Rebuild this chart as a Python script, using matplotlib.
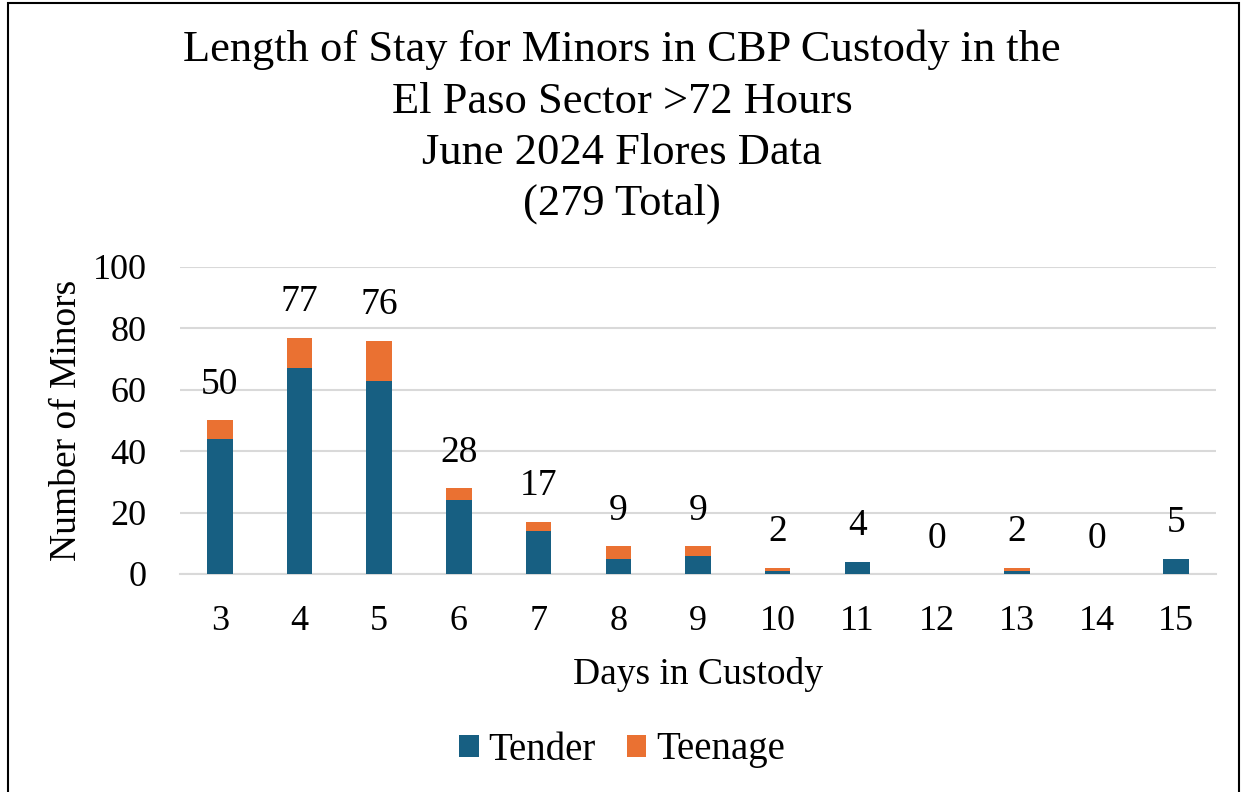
import matplotlib
matplotlib.use("Agg")
import matplotlib.pyplot as plt
from matplotlib.patches import Rectangle

days = ["3", "4", "5", "6", "7", "8", "9", "10", "11", "12", "13", "14", "15"]
tender = [44, 67, 63, 24, 14, 5, 6, 1, 4, 0, 1, 0, 5]
teenage = [6, 10, 13, 4, 3, 4, 3, 1, 0, 0, 1, 0, 0]
totals = [50, 77, 76, 28, 17, 9, 9, 2, 4, 0, 2, 0, 5]

plt.rcParams['font.family'] = ['Liberation Serif', 'DejaVu Serif']

fig = plt.figure(figsize=(12.44, 7.92), dpi=100)
ax = fig.add_axes([180/1244, 1 - 574/792, (1216-180)/1244, (574-267)/792])

x = list(range(len(days)))
c1 = "#175f82"
c2 = "#ea7132"
ax.bar(x, tender, width=0.32, color=c1, label="Tender", zorder=3)
ax.bar(x, teenage, width=0.32, bottom=tender, color=c2, label="Teenage", zorder=3)

for xi, t in zip(x, totals):
    ax.text(xi, t + 6, str(t), ha="center", va="bottom", fontsize=27)

ax.set_ylim(0, 100)
ax.set_xlim(-0.5, len(days) - 0.5)
ax.set_yticks([0, 20, 40, 60, 80, 100])
ax.set_xticks(x)
ax.set_xticklabels(days)
ax.tick_params(axis="both", labelsize=26, length=0)
ax.tick_params(axis="x", pad=22)
ax.tick_params(axis="y", pad=24)
ax.grid(axis="y", color="#d9d9d9", linewidth=1.5, zorder=0)
for s in ["top", "right", "left"]:
    ax.spines[s].set_visible(False)
ax.spines["bottom"].set_color("#d9d9d9")
ax.spines["bottom"].set_linewidth(1.5)

ax.set_xlabel("Days in Custody", fontsize=27, labelpad=14)
ax.set_ylabel("Number of Minors", fontsize=27, labelpad=6)

fig.text(0.5, 1 - 30/792, "Length of Stay for Minors in CBP Custody in the\nEl Paso Sector >72 Hours\nJune 2024 Flores Data\n(279 Total)",
         ha="center", va="top", fontsize=32, linespacing=1.36)

fig.legend(loc="center", bbox_to_anchor=(0.5, 1 - 750/792), ncol=2, frameon=False,
           fontsize=28, handlelength=0.5, handleheight=0.5, handletextpad=0.25, columnspacing=0.8)

fig.patches.append(Rectangle((8/1244, -0.01), (1239-8)/1244, 1.01 - 3/792, transform=fig.transFigure,
                             fill=False, edgecolor="black", linewidth=1.5))

fig.savefig("out.png", dpi=100)
